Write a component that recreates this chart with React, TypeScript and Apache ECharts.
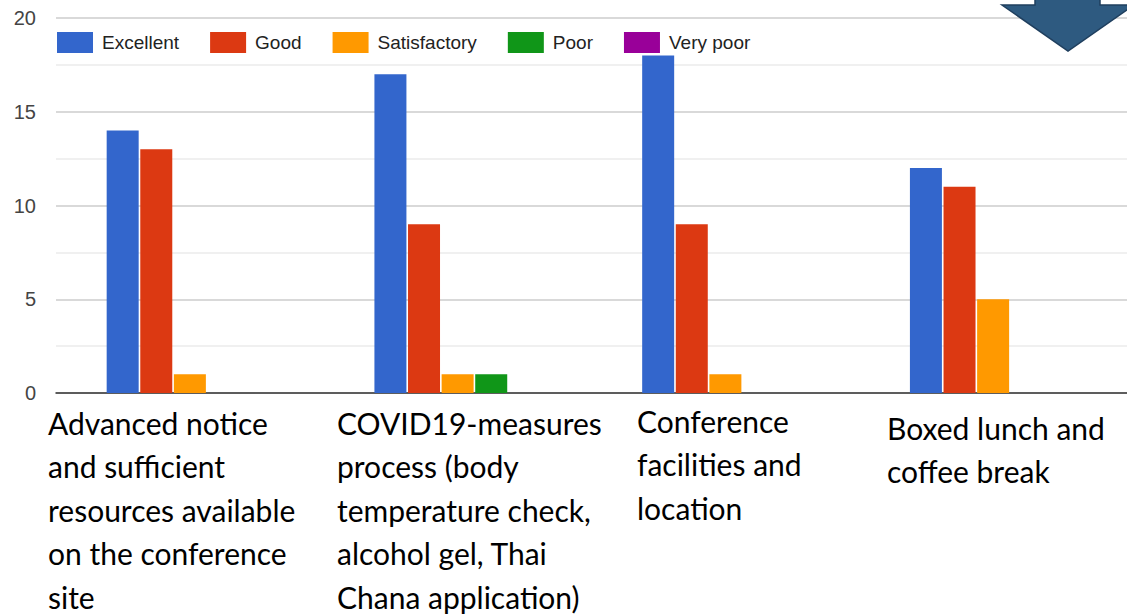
import React, { useEffect, useRef } from "react";
import * as echarts from "echarts";

const categories = [
  "Advanced notice and sufficient resources available on the conference site",
  "COVID19-measures process (body temperature check, alcohol gel, Thai Chana application)",
  "Conference facilities and location",
  "Boxed lunch and coffee break",
];
const categoryLines = [
  ["Advanced notice", "and sufficient", "resources available", "on the conference", "site"],
  ["COVID19-measures", "process (body", "temperature check,", "alcohol gel, Thai", "Chana application)"],
  ["Conference", "facilities and", "location"],
  ["Boxed lunch and", "coffee break"],
];
const seriesNames = ["Excellent", "Good", "Satisfactory", "Poor", "Very poor"];
const excellent = [14, 17, 18, 12];
const good = [13, 9, 9, 11];
const satisfactory = [1, 1, 1, 5];
const poor = [0, 1, 0, 0];
const veryPoor = [0, 0, 0, 0];
const colors = ["#3366cc", "#dc3912", "#ff9900", "#109618", "#990099"];
const yTickLabels = [0, 5, 10, 15, 20];

const labelLayout = [
  { x: 48, y: 401 },
  { x: 337, y: 401 },
  { x: 637, y: 399 },
  { x: 887, y: 406 },
];

const SANS = "'Liberation Sans', Arial, sans-serif";

export default function App() {
  const ref = useRef<HTMLDivElement>(null);
  useEffect(() => {
    if (!ref.current) return;
    const chart = echarts.init(ref.current, null, { renderer: "svg" });
    const seriesData = [excellent, good, satisfactory, poor, veryPoor];
    chart.setOption({
      animation: false,
      color: colors,
      grid: { left: 56, top: 18, width: 1078, height: 375, containLabel: false },
      legend: {
        data: seriesNames,
        left: 57,
        top: 32,
        padding: 0,
        icon: "rect",
        itemWidth: 36,
        itemHeight: 21,
        itemGap: 31,
        textStyle: { fontFamily: SANS, fontSize: 19, color: "#222", padding: [2, 0, 0, 4] },
      },
      xAxis: {
        type: "category",
        data: categories,
        axisLine: { lineStyle: { color: "#333", width: 1.5 } },
        axisTick: { show: false },
        axisLabel: { show: false },
      },
      yAxis: {
        type: "value",
        min: 0,
        max: 20,
        interval: 2.5,
        axisLine: { show: false },
        axisTick: { show: false },
        axisLabel: {
          margin: 20,
          color: "#444",
          fontFamily: SANS,
          fontSize: 20,
          formatter: (v: number) => (yTickLabels.includes(v) ? String(v) : ""),
        },
        splitLine: { lineStyle: { color: ["#cccccc", "#ebebeb"], width: 1.5 } },
      },
      series: seriesNames.map((name, i) => ({
        name,
        type: "bar",
        data: seriesData[i],
        barWidth: 32,
        barGap: "5%",
      })),
      graphic: [
        ...categoryLines.map((lines, i) => ({
          type: "text",
          left: labelLayout[i].x,
          top: labelLayout[i].y,
          style: {
            text: lines.join("\n"),
            fontFamily: "Lato, 'Open Sans', sans-serif",
            fontSize: 30,
            lineHeight: 43.5,
            fill: "#000",
          },
        })),
        {
          type: "polygon",
          shape: {
            points: [
              [1035, -3],
              [1035, 5],
              [1002, 5],
              [1068, 51],
              [1134, 5],
              [1100, 5],
              [1100, -3],
            ],
          },
          style: { fill: "#2e5a80", stroke: "#1f3f5e", lineWidth: 1.5 },
          z: 10,
        },
      ],
    });
    return () => chart.dispose();
  }, []);
  return (
    <div
      ref={ref}
      style={{ position: "fixed", left: 0, top: 0, width: 1127, height: 615, background: "#fff" }}
    />
  );
}
